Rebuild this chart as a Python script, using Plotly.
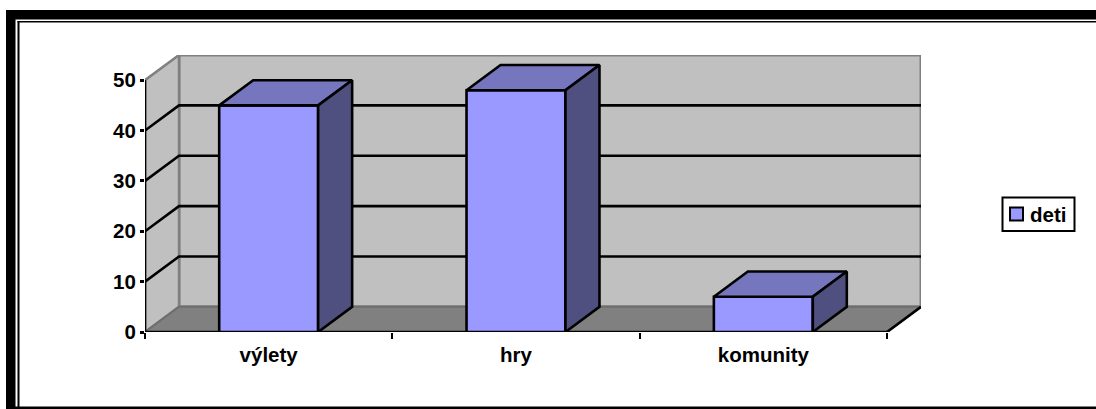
import plotly.graph_objects as go

# Data
categories = ["výlety", "hry", "komunity"]
deti = [45, 48, 7]
y_ticks = [0, 10, 20, 30, 40, 50]
series_name = "deti"

# Fake 3D depth, in data units
DX = 0.1375
DY = 5

W, H = 1096, 409
L, R, T, B = 145, 175, 55, 77

FRONT = "#9999FF"
TOP = "#7676BF"
SIDE = "#4F4F80"
WALL = "#C0C0C0"
FLOOR = "#808080"
EDGE = "#808080"
FONT = dict(family="Liberation Sans", size=20.5, color="black", weight=700)
LW = 2.6

n = len(categories)
centers = [i + 0.5 for i in range(n)]
bar_w = 0.4


def polygon(xs, ys, fill, line_color, line_width=LW, axes=("x", "y")):
    return go.Scatter(
        x=xs,
        y=ys,
        mode="lines",
        fill="toself",
        fillcolor=fill,
        line=dict(color=line_color, width=line_width),
        xaxis=axes[0],
        yaxis=axes[1],
        cliponaxis=False,
        showlegend=False,
        hoverinfo="skip",
    )


def path(xs, ys, color, width=LW, axes=("x", "y")):
    return go.Scatter(
        x=xs,
        y=ys,
        mode="lines",
        line=dict(color=color, width=width),
        xaxis=axes[0],
        yaxis=axes[1],
        cliponaxis=False,
        showlegend=False,
        hoverinfo="skip",
    )


def page_rect(x0, y0, x1, y1, fill, line_color=None, line_width=0):
    # Rectangle given in page pixels, turned into plot-area fractions
    fig.add_shape(
        type="rect",
        xref="paper",
        yref="paper",
        x0=(x0 - L) / (W - L - R),
        x1=(x1 - L) / (W - L - R),
        y0=(H - B - y0) / (H - T - B),
        y1=(H - B - y1) / (H - T - B),
        fillcolor=fill,
        line=dict(color=line_color, width=line_width),
        layer="above",
    )


top_val = y_ticks[-1]
fig = go.Figure()

# Walls and floor
fig.add_trace(polygon([DX, n + DX, n + DX, DX, DX], [DY, DY, top_val + DY, top_val + DY, DY], WALL, EDGE, 3))
fig.add_trace(polygon([0, DX, DX, 0, 0], [0, DY, top_val + DY, top_val, 0], WALL, EDGE, 2.5))
fig.add_trace(polygon([0, DX, n + DX, n, 0], [0, DY, DY, 0, 0], FLOOR, "#6E6E6E", 2))

# Gridlines wrap round the side wall and the back wall
for v in y_ticks[1:-1]:
    fig.add_trace(path([0, DX, n + DX], [v, v + DY, v + DY], "black"))

# Axis lines
fig.add_trace(path([0, 0], [0, top_val], "black"))
fig.add_trace(path([0, n], [0, 0], "black"))
fig.add_trace(path([n, n + DX], [0, DY], "black"))

# Bars sit on an overlay so they stay above the walls
over = ("x2", "y2")
fig.add_trace(
    go.Bar(
        x=centers,
        y=deti,
        name=series_name,
        marker=dict(color=FRONT, line=dict(color="black", width=LW)),
        xaxis="x2",
        yaxis="y2",
        cliponaxis=False,
    )
)
for c, v in zip(centers, deti):
    x0, x1 = c - bar_w / 2, c + bar_w / 2
    fig.add_trace(polygon([x0, x0 + DX, x1 + DX, x1, x0], [v, v + DY, v + DY, v, v], TOP, "black", axes=over))
    fig.add_trace(polygon([x1, x1 + DX, x1 + DX, x1, x1], [0, DY, v + DY, v, 0], SIDE, "black", axes=over))

x_range = [0, n + DX]
y_range = [0, top_val + DY]

fig.update_layout(
    width=W,
    height=H,
    margin=dict(l=L, r=R, t=T, b=B, pad=0, autoexpand=False),
    paper_bgcolor="white",
    plot_bgcolor="white",
    font=FONT,
    bargap=0.6,
    showlegend=False,
    xaxis=dict(
        range=x_range,
        tickvals=centers,
        ticktext=categories,
        ticks="outside",
        ticklen=4,
        tickcolor="rgba(0,0,0,0)",
        tickfont=FONT,
        showgrid=False,
        zeroline=False,
        showline=False,
        minor=dict(tickvals=list(range(n + 1)), ticks="outside", ticklen=6, tickwidth=2, tickcolor="black", showgrid=False),
    ),
    yaxis=dict(
        range=y_range,
        tickvals=y_ticks,
        ticks="outside",
        ticklen=4,
        tickwidth=LW,
        tickcolor="black",
        tickfont=FONT,
        showgrid=False,
        zeroline=False,
        showline=False,
    ),
    xaxis2=dict(range=x_range, overlaying="x", visible=False),
    yaxis2=dict(range=y_range, overlaying="y", visible=False),
)

# Legend box, swatch and label
page_rect(1002.5, 197.5, 1074.5, 231, "white", "black", 2)
page_rect(1010, 207.5, 1023, 220.5, FRONT, "black", 2)
fig.add_annotation(
    text=series_name,
    xref="paper",
    yref="paper",
    x=(1029 - L) / (W - L - R),
    y=(H - B - 214.5) / (H - T - B),
    xanchor="left",
    yanchor="middle",
    showarrow=False,
    font=FONT,
    borderpad=0,
)

# Double picture frame round the chart
frame = [
    (6, 10, 15.5, H),
    (6, 10, W, 19.5),
    (17.5, 21, 19.5, H),
    (17.5, 21, W, 22.5),
    (6, H - 2.5, W, H),
]
for x0, y0, x1, y1 in frame:
    page_rect(x0, y0, x1, y1, "black")

fig.write_html(
    "out.html",
    config={"displayModeBar": False},
    post_script="document.body.style.margin='0';",
)
